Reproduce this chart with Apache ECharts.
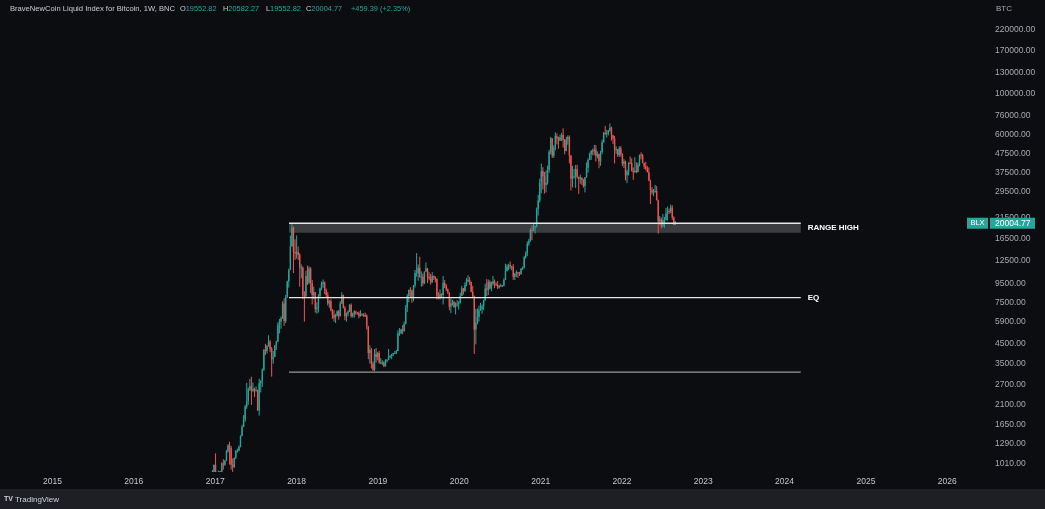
<!DOCTYPE html>
<html><head><meta charset="utf-8">
<script src="https://cdn.jsdelivr.net/npm/echarts@6/dist/echarts.min.js"></script>
<style>html,body{margin:0;padding:0;background:#0c0d10;overflow:hidden}#chart{width:1045px;height:509px}</style>
</head><body><div id="chart"></div><script>
// rows: [week start, open, high, low, close]
const candles2016 = [
['2016-12-19',790,935,785,890],['2016-12-26',890,1000,880,998]];
const candles2017 = [
['2017-01-02',998,1150,820,905],['2017-01-09',905,915,750,820],['2017-01-16',820,930,810,920],['2017-01-23',920,925,880,915],
['2017-01-30',915,1030,910,1015],['2017-02-06',1015,1070,940,1000],['2017-02-13',1000,1060,985,1050],['2017-02-20',1050,1200,1045,1180],
['2017-02-27',1180,1290,1160,1270],['2017-03-06',1270,1330,1000,1230],['2017-03-13',1230,1260,940,1000],['2017-03-20',1000,1080,900,970],
['2017-03-27',970,1090,960,1090],['2017-04-03',1090,1200,1070,1180],['2017-04-10',1180,1220,1160,1190],['2017-04-17',1190,1270,1180,1250],
['2017-04-24',1250,1440,1240,1430],['2017-05-01',1430,1640,1420,1600],['2017-05-08',1600,1850,1600,1750],['2017-05-15',1750,2100,1700,2060],
['2017-05-22',2060,2760,2000,2200],['2017-05-29',2200,2600,2100,2550],['2017-06-05',2550,2900,2500,2650],['2017-06-12',2650,2980,2100,2500],
['2017-06-19',2500,2770,2470,2560],['2017-06-26',2560,2600,2320,2500],['2017-07-03',2500,2640,2480,2520],['2017-07-10',2520,2540,1950,1960],
['2017-07-17',1960,2900,1840,2750],['2017-07-24',2750,2820,2450,2850],['2017-07-31',2850,3300,2620,3250],['2017-08-07',3250,4200,3200,4150],
['2017-08-14',4150,4480,3900,4100],['2017-08-21',4100,4400,3980,4380],['2017-08-28',4380,4980,4320,4600],['2017-09-04',4600,4700,4050,4200],
['2017-09-11',4200,4300,2980,3700],['2017-09-18',3700,4100,3500,3800],['2017-09-25',3800,4400,3800,4400],['2017-10-02',4400,4650,4150,4600],
['2017-10-09',4600,5850,4600,5700],['2017-10-16',5700,6100,5100,5900],['2017-10-23',5900,6300,5400,6150],['2017-10-30',6150,7600,6100,7400],
['2017-11-06',7400,7900,5600,5950],['2017-11-13',5950,8200,5800,8000],['2017-11-20',8000,9800,7900,9700],['2017-11-27',9700,11400,9000,11200],
['2017-12-04',11200,17200,11200,15000],['2017-12-11',15000,19800,15000,19000],['2017-12-18',19000,19200,10800,14000],['2017-12-25',14000,16400,12700,13800]];
const candles2018 = [
['2018-01-01',13800,17200,12900,14000],['2018-01-08',14000,15000,12700,13500],['2018-01-15',13500,13800,9100,11500],['2018-01-22',11500,12000,10100,11500],
['2018-01-29',11500,11700,7800,8150],['2018-02-05',8150,8600,5900,8100],['2018-02-12',8100,11100,8000,10400],['2018-02-19',10400,11800,9300,9600],
['2018-02-26',9600,11700,9400,11400],['2018-03-05',11400,11600,8400,9500],['2018-03-12',9500,9900,7300,8200],['2018-03-19',8200,9100,7800,8500],
['2018-03-26',8500,8500,6600,6900],['2018-04-02',6900,7500,6500,7000],['2018-04-09',7000,8300,6600,8100],['2018-04-16',8100,9000,7900,8900],
['2018-04-23',8900,9700,8700,9400],['2018-04-30',9400,9950,9000,9600],['2018-05-07',9600,9700,8300,8700],['2018-05-14',8700,8900,7950,8200],
['2018-05-21',8200,8500,7200,7400],['2018-05-28',7400,7700,7000,7600],['2018-06-04',7600,7800,6700,6800],['2018-06-11',6800,6900,6100,6400],
['2018-06-18',6400,6800,5900,6200],['2018-06-25',6200,6500,5800,6350],['2018-07-02',6350,6800,6300,6700],['2018-07-09',6700,6800,6050,6300],
['2018-07-16',6300,7600,6300,7400],['2018-07-23',7400,8500,7350,8200],['2018-07-30',8200,8250,6950,7000],['2018-08-06',7000,7150,6000,6300],
['2018-08-13',6300,6600,5900,6500],['2018-08-20',6500,6800,6300,6700],['2018-08-27',6700,7350,6650,7250],['2018-09-03',7250,7400,6200,6300],
['2018-09-10',6300,6600,6200,6500],['2018-09-17',6500,6800,6200,6700],['2018-09-24',6700,6750,6400,6600],['2018-10-01',6600,6650,6450,6550],
['2018-10-08',6550,6700,6150,6300],['2018-10-15',6300,6800,6300,6450],['2018-10-22',6450,6550,6350,6400],['2018-10-29',6400,6550,6250,6400],
['2018-11-05',6400,6600,6250,6350],['2018-11-12',6350,6450,5350,5550],['2018-11-19',5550,5600,3700,4000],['2018-11-26',4000,4400,3500,4150],
['2018-12-03',4150,4250,3300,3500],['2018-12-10',3500,3600,3200,3250],['2018-12-17',3250,4200,3200,3950],['2018-12-24',3950,4250,3550,3800],
['2018-12-31',3800,4050,3650,4000]];
const candles2019 = [
['2019-01-07',4000,4100,3500,3550],['2019-01-14',3550,3750,3480,3550],['2019-01-21',3550,3650,3450,3550],['2019-01-28',3550,3600,3350,3400],
['2019-02-04',3400,3700,3370,3650],['2019-02-11',3650,3700,3550,3680],['2019-02-18',3680,4200,3650,3800],['2019-02-25',3800,3900,3750,3850],
['2019-03-04',3850,3950,3700,3950],['2019-03-11',3950,4000,3850,4000],['2019-03-18',4000,4100,3950,4000],['2019-03-25',4000,4150,3950,4100],
['2019-04-01',4100,5300,4100,5100],['2019-04-08',5100,5450,4950,5100],['2019-04-15',5100,5400,5050,5350],['2019-04-22',5350,5650,5050,5250],
['2019-04-29',5250,5900,5200,5750],['2019-05-06',5750,7250,5700,7000],['2019-05-13',7000,8300,6650,8100],['2019-05-20',8100,8750,7500,8750],
['2019-05-27',8750,9050,8000,8650],['2019-06-03',8650,8800,7450,8000],['2019-06-10',8000,9300,7600,9250],['2019-06-17',9250,11200,9000,10800],
['2019-06-24',10800,13800,10300,10800],['2019-07-01',10800,12000,9800,11500],['2019-07-08',11500,13200,10700,10200],['2019-07-15',10200,11000,9100,10300],
['2019-07-22',10300,10700,9200,9500],['2019-07-29',9500,11000,9400,10950],['2019-08-05',10950,12300,10950,11400],['2019-08-12',11400,11500,9500,10300],
['2019-08-19',10300,10900,9850,10100],['2019-08-26',10100,10650,9350,9600],['2019-09-02',9600,10900,9600,10400],['2019-09-09',10400,10450,9900,10300],
['2019-09-16',10300,10350,9600,10000],['2019-09-23',10000,10100,7750,8050],['2019-09-30',8050,8500,7800,7950],['2019-10-07',7950,8800,7750,8300],
['2019-10-14',8300,8400,7900,8200],['2019-10-21',8200,10400,7300,9550],['2019-10-28',9550,9900,8950,9200],['2019-11-04',9200,9400,8600,8800],
['2019-11-11',8800,8900,8300,8500],['2019-11-18',8500,8500,6800,7100],['2019-11-25',7100,7850,6550,7400],['2019-12-02',7400,7750,7200,7500],
['2019-12-09',7500,7650,7000,7050],['2019-12-16',7050,7500,6450,7350],['2019-12-23',7350,7700,7100,7400],['2019-12-30',7400,7600,6850,7450]];
const candles2020 = [
['2020-01-06',7450,8450,7400,8100],['2020-01-13',8100,9200,8100,8900],['2020-01-20',8900,8950,8250,8600],['2020-01-27',8600,9600,8550,9300],
['2020-02-03',9300,10150,9150,9900],['2020-02-10',9900,10500,9600,9900],['2020-02-17',9900,10250,9300,9650],['2020-02-24',9650,9700,8500,8550],
['2020-03-02',8550,9200,7950,8050],['2020-03-09',8050,8150,3950,5350],['2020-03-16',5350,6900,4450,5800],['2020-03-23',5800,6950,5700,6250],
['2020-03-30',6250,7200,5900,6800],['2020-04-06',6800,7450,6750,6900],['2020-04-13',6900,7300,6500,7150],['2020-04-20',7150,7750,6800,7700],
['2020-04-27',7700,9450,7650,8900],['2020-05-04',8900,10000,8100,8750],['2020-05-11',8750,9950,8200,9650],['2020-05-18',9650,9850,8800,8900],
['2020-05-25',8900,9700,8600,9450],['2020-06-01',9450,10400,9250,9750],['2020-06-08',9750,9950,8950,9350],['2020-06-15',9350,9600,9200,9300],
['2020-06-22',9300,9750,8850,9000],['2020-06-29',9000,9300,8900,9150],['2020-07-06',9150,9450,9100,9250],['2020-07-13',9250,9300,9050,9200],
['2020-07-20',9200,10100,9150,9900],['2020-07-27',9900,12100,9900,11100],['2020-08-03',11100,12000,11000,11700],['2020-08-10',11700,12100,11150,11900],
['2020-08-17',11900,12450,11350,11700],['2020-08-24',11700,11800,11150,11700],['2020-08-31',11700,12050,9900,10300],['2020-09-07',10300,10800,9900,10700],
['2020-09-14',10700,11150,10250,10900],['2020-09-21',10900,10900,10150,10780],['2020-09-28',10780,10950,10400,10650],['2020-10-05',10650,11450,10550,11400],
['2020-10-12',11400,11700,11200,11500],['2020-10-19',11500,13350,11400,13100],['2020-10-26',13100,14100,12900,13800],['2020-11-02',13800,15950,13300,15500],
['2020-11-09',15500,16500,15100,16100],['2020-11-16',16100,18800,15900,18400],['2020-11-23',18400,19500,16200,18200],['2020-11-30',18200,19900,18100,19150],
['2020-12-07',19150,19400,17600,19250],['2020-12-14',19250,24300,19000,23800],['2020-12-21',23800,28400,22000,26500],['2020-12-28',26500,34800,25900,33000]];
const candles2021 = [
['2021-01-04',33000,41900,29000,38200],['2021-01-11',38200,40100,30400,35800],['2021-01-18',35800,37800,28900,32300],['2021-01-25',32300,38500,29300,33100],
['2021-02-01',33100,40900,32300,38900],['2021-02-08',38900,49700,37400,48600],['2021-02-15',48600,58300,47100,57500],['2021-02-22',57500,57500,44900,46200],
['2021-03-01',46200,52600,45000,51200],['2021-03-08',51200,61800,49500,59000],['2021-03-15',59000,61000,53300,57300],['2021-03-22',57300,58500,50400,55800],
['2021-03-29',55800,60100,55500,58200],['2021-04-05',58200,61200,55500,59800],['2021-04-12',59800,64900,51200,56200],['2021-04-19',56200,57000,47000,49000],
['2021-04-26',49000,58500,48800,56600],['2021-05-03',56600,59500,53000,58300],['2021-05-10',58300,59500,42000,46400],['2021-05-17',46400,46600,30000,34700],
['2021-05-24',34700,40800,31200,35600],['2021-05-31',35600,39300,34800,35800],['2021-06-07',35800,41300,31000,39100],['2021-06-14',39100,41300,34800,35500],
['2021-06-21',35500,35700,28800,34700],['2021-06-28',34700,36600,32700,35300],['2021-07-05',35300,35300,32200,34250],['2021-07-12',34250,34700,31100,31800],
['2021-07-19',31800,35400,29300,35400],['2021-07-26',35400,42500,35200,39800],['2021-08-02',39800,44700,37500,43800],['2021-08-09',43800,48000,43800,47100],
['2021-08-16',47100,49400,43900,49300],['2021-08-23',49300,50500,46400,48900],['2021-08-30',48900,52900,46700,49900],['2021-09-06',49900,52800,43000,46000],
['2021-09-13',46000,48800,44800,47200],['2021-09-20',47200,47400,39600,43200],['2021-09-27',43200,49200,40800,48200],['2021-10-04',48200,56500,47100,54700],
['2021-10-11',54700,62000,54400,61500],['2021-10-18',61500,67000,59600,61300],['2021-10-25',61300,63700,58000,61300],['2021-11-01',61300,63500,59500,63300],
['2021-11-08',63300,69000,62300,65500],['2021-11-15',65500,66300,55700,59700],['2021-11-22',59700,59900,53500,57300],['2021-11-29',57300,59100,42000,50100],
['2021-12-06',50100,51900,47300,50100],['2021-12-13',50100,50200,45500,46700],['2021-12-20',46700,51900,45600,50800],['2021-12-27',50800,52100,45700,47300]];
const candles2022 = [
['2022-01-03',47300,47600,40700,41800],['2022-01-10',41800,44400,39700,43100],['2022-01-17',43100,43500,34000,36300],['2022-01-24',36300,38900,32900,37900],
['2022-01-31',37900,42600,36200,42400],['2022-02-07',42400,45800,41700,42200],['2022-02-14',42200,44800,38000,38300],['2022-02-21',38300,40000,34300,37700],
['2022-02-28',37700,45400,37500,38400],['2022-03-07',38400,42600,37200,37800],['2022-03-14',37800,42400,37600,41300],['2022-03-21',41300,46800,40500,46800],
['2022-03-28',46800,48200,44200,46400],['2022-04-04',46400,47200,42100,42200],['2022-04-11',42200,42400,39200,40400],['2022-04-18',40400,42900,38600,39500],
['2022-04-25',39500,40800,37600,37700],['2022-05-02',37700,40000,33700,34000],['2022-05-09',34000,34300,25400,30100],['2022-05-16',30100,31300,28600,29400],
['2022-05-23',29400,30600,28000,29400],['2022-05-30',29400,32200,29300,29900],['2022-06-06',29900,31700,26600,26600],['2022-06-13',26600,26800,17600,20500],
['2022-06-20',20500,21900,19600,21000],['2022-06-27',21000,21500,18800,19300],['2022-07-04',19300,22400,19000,20800],['2022-07-11',20800,21600,18900,20800],
['2022-07-18',20800,24200,20700,22600],['2022-07-25',22600,24600,20700,23300],['2022-08-01',23300,24000,22400,23200],['2022-08-08',23200,25200,22700,24300],
['2022-08-15',24300,25000,20800,21500],['2022-08-22',21500,21800,19530,19545],['2022-08-29',19552.82,20582.27,19552.82,20004.77]];

const yearTicks = ['2015','2016','2017','2018','2019','2020','2021','2022','2023','2024','2025','2026'];
const priceTicks = [220000,170000,130000,100000,76000,60000,47500,37500,29500,21500,16500,12500,9500,7500,5900,4500,3500,2700,2100,1650,1290,1010];
const rangeHigh = 20000, rangeHighBoxLow = 17750, eqLevel = 7950, rangeLow = 3150;
const levelSpan = ['2017-11-28','2024-03-14'];
const headerName = 'BraveNewCoin Liquid Index for Bitcoin, 1W, BNC';
const headerFields = [['O','19552.82'],['H','20582.27'],['L','19552.82'],['C','20004.77'],['','+459.39 (+2.35%)']];

const rows = [].concat(candles2016,candles2017,candles2018,candles2019,candles2020,candles2021,candles2022);
const ts = s => { const p = s.split('-').map(Number); return Date.UTC(p[0], p[1]-1, p[2] || 1); };
const candleData = rows.map(r => [ts(r[0]), r[1], r[4], r[3], r[2]]); // t, open, close, low, high
const last = rows[rows.length-1];

const UP = '#26a69a', DOWN = '#ef5350';
const FONT = '"Liberation Sans", Arial, sans-serif';
const headerX = [180, 223, 266, 306, 351];
const headerGraphics = headerFields.map((f, i) => ({
  type: 'text', left: headerX[i], top: 5,
  style: {text: (f[0] ? '{l|' + f[0] + '}' : '') + '{v|' + f[1] + '}',
    rich: {l: {fill: '#c9ccd3', font: '7.4px ' + FONT}, v: {fill: UP, font: '7.4px ' + FONT}}}
}));

const chart = echarts.init(document.getElementById('chart'));
chart.setOption({
  animation: false,
  backgroundColor: '#0c0d10',
  textStyle: {fontFamily: FONT},
  grid: {left: 0, right: 57, top: 0, bottom: 37},
  xAxis: {
    type: 'value', min: Date.UTC(2014,4,10), max: Date.UTC(2026,6,3), scale: true,
    axisLine: {show: false}, axisTick: {show: false}, splitLine: {show: false},
    axisLabel: {customValues: yearTicks.map(y => Date.UTC(+y,0,1)), formatter: v => String(new Date(v).getUTCFullYear()),
      color: '#c3c6ce', fontSize: 8.5, margin: 5, hideOverlap: false}
  },
  yAxis: {
    type: 'log', position: 'right', min: 913, max: 319300,
    axisLine: {show: false}, axisTick: {show: false}, splitLine: {show: false},
    axisLabel: {customValues: priceTicks, formatter: v => Number(v).toFixed(2), align: 'left', margin: 7,
      color: '#a7aab2', fontSize: 8.5, hideOverlap: false}
  },
  graphic: [
    {type: 'rect', left: 0, top: 489, shape: {width: 1045, height: 20}, style: {fill: '#1d1f25'}},
    {type: 'text', left: 4, top: 496, style: {text: 'TV', fill: '#d1d4dc', font: 'bold 7px ' + FONT}},
    {type: 'text', left: 15, top: 496, style: {text: 'TradingView', fill: '#d1d4dc', font: '8px ' + FONT}},
    {type: 'text', left: 996, top: 5, style: {text: 'BTC', fill: '#a7aab2', font: '8px ' + FONT}},
    {type: 'text', left: 10, top: 5, style: {text: headerName, fill: '#c9ccd3', font: '7.6px ' + FONT}}
  ].concat(headerGraphics),
  series: [
    {
      type: 'custom', name: 'BLX', data: candleData, encode: {x: 0, y: [1,2,3,4]}, clip: true, z: 4,
      renderItem: (params, api) => {
        const t = api.value(0), o = api.value(1), c = api.value(2), l = api.value(3), h = api.value(4);
        const pO = api.coord([t, o]), pC = api.coord([t, c]), pL = api.coord([t, l]), pH = api.coord([t, h]);
        const x = pO[0];
        const col = c >= o ? UP : DOWN;
        const top = Math.min(pO[1], pC[1]), bot = Math.max(pO[1], pC[1]);
        return {type: 'group', children: [
          {type: 'line', shape: {x1: x, y1: pH[1], x2: x, y2: pL[1]}, style: {stroke: col, lineWidth: 1}},
          {type: 'rect', shape: {x: x - 0.7, y: top, width: 1.4, height: Math.max(bot - top, 1)}, style: {fill: col}}
        ]};
      }
    },
    {
      type: 'line', data: [[ts(levelSpan[0]), rangeHigh], [ts(levelSpan[1]), rangeHigh]], symbol: 'none',
      lineStyle: {color: '#e6e6e6', width: 1.5}, z: 5,
      markArea: {silent: true, itemStyle: {color: 'rgba(255,255,255,0.2)'},
        label: {show: true, position: 'right', distance: 7, formatter: 'RANGE HIGH', color: '#ffffff', fontWeight: 'bold', fontSize: 8},
        data: [[{xAxis: ts(levelSpan[0]), yAxis: rangeHigh}, {xAxis: ts(levelSpan[1]), yAxis: rangeHighBoxLow}]]}
    },
    {
      type: 'line', data: [[ts(levelSpan[0]), eqLevel], [ts(levelSpan[1]), eqLevel]], symbol: 'none',
      lineStyle: {color: '#e6e6e6', width: 1.3}, z: 5,
      endLabel: {show: true, formatter: 'EQ', color: '#ffffff', fontWeight: 'bold', fontSize: 8, distance: 7}
    },
    {
      type: 'line', data: [[ts(levelSpan[0]), rangeLow], [ts(levelSpan[1]), rangeLow]], symbol: 'none',
      lineStyle: {color: '#9a9a9a', width: 1.3}, z: 5
    },
    {
      type: 'custom', data: [[ts(last[0]), last[4]]], clip: false, z: 10,
      renderItem: (params, api) => {
        const p = api.coord([api.value(0), api.value(1)]);
        const right = params.coordSys.x + params.coordSys.width;
        const y = p[1];
        return {type: 'group', children: [
          {type: 'rect', shape: {x: right - 21, y: y - 5.5, width: 21, height: 11}, style: {fill: UP}},
          {type: 'text', style: {text: 'BLX', x: right - 10.5, y: y, align: 'center', verticalAlign: 'middle', fill: '#ffffff', font: '7.5px ' + FONT}},
          {type: 'rect', shape: {x: right + 2, y: y - 5.5, width: 45, height: 11}, style: {fill: UP}},
          {type: 'text', style: {text: api.value(1).toFixed(2), x: right + 7, y: y, align: 'left', verticalAlign: 'middle', fill: '#ffffff', font: '8.5px ' + FONT}}
        ]};
      }
    }
  ]
});
</script></body></html>
